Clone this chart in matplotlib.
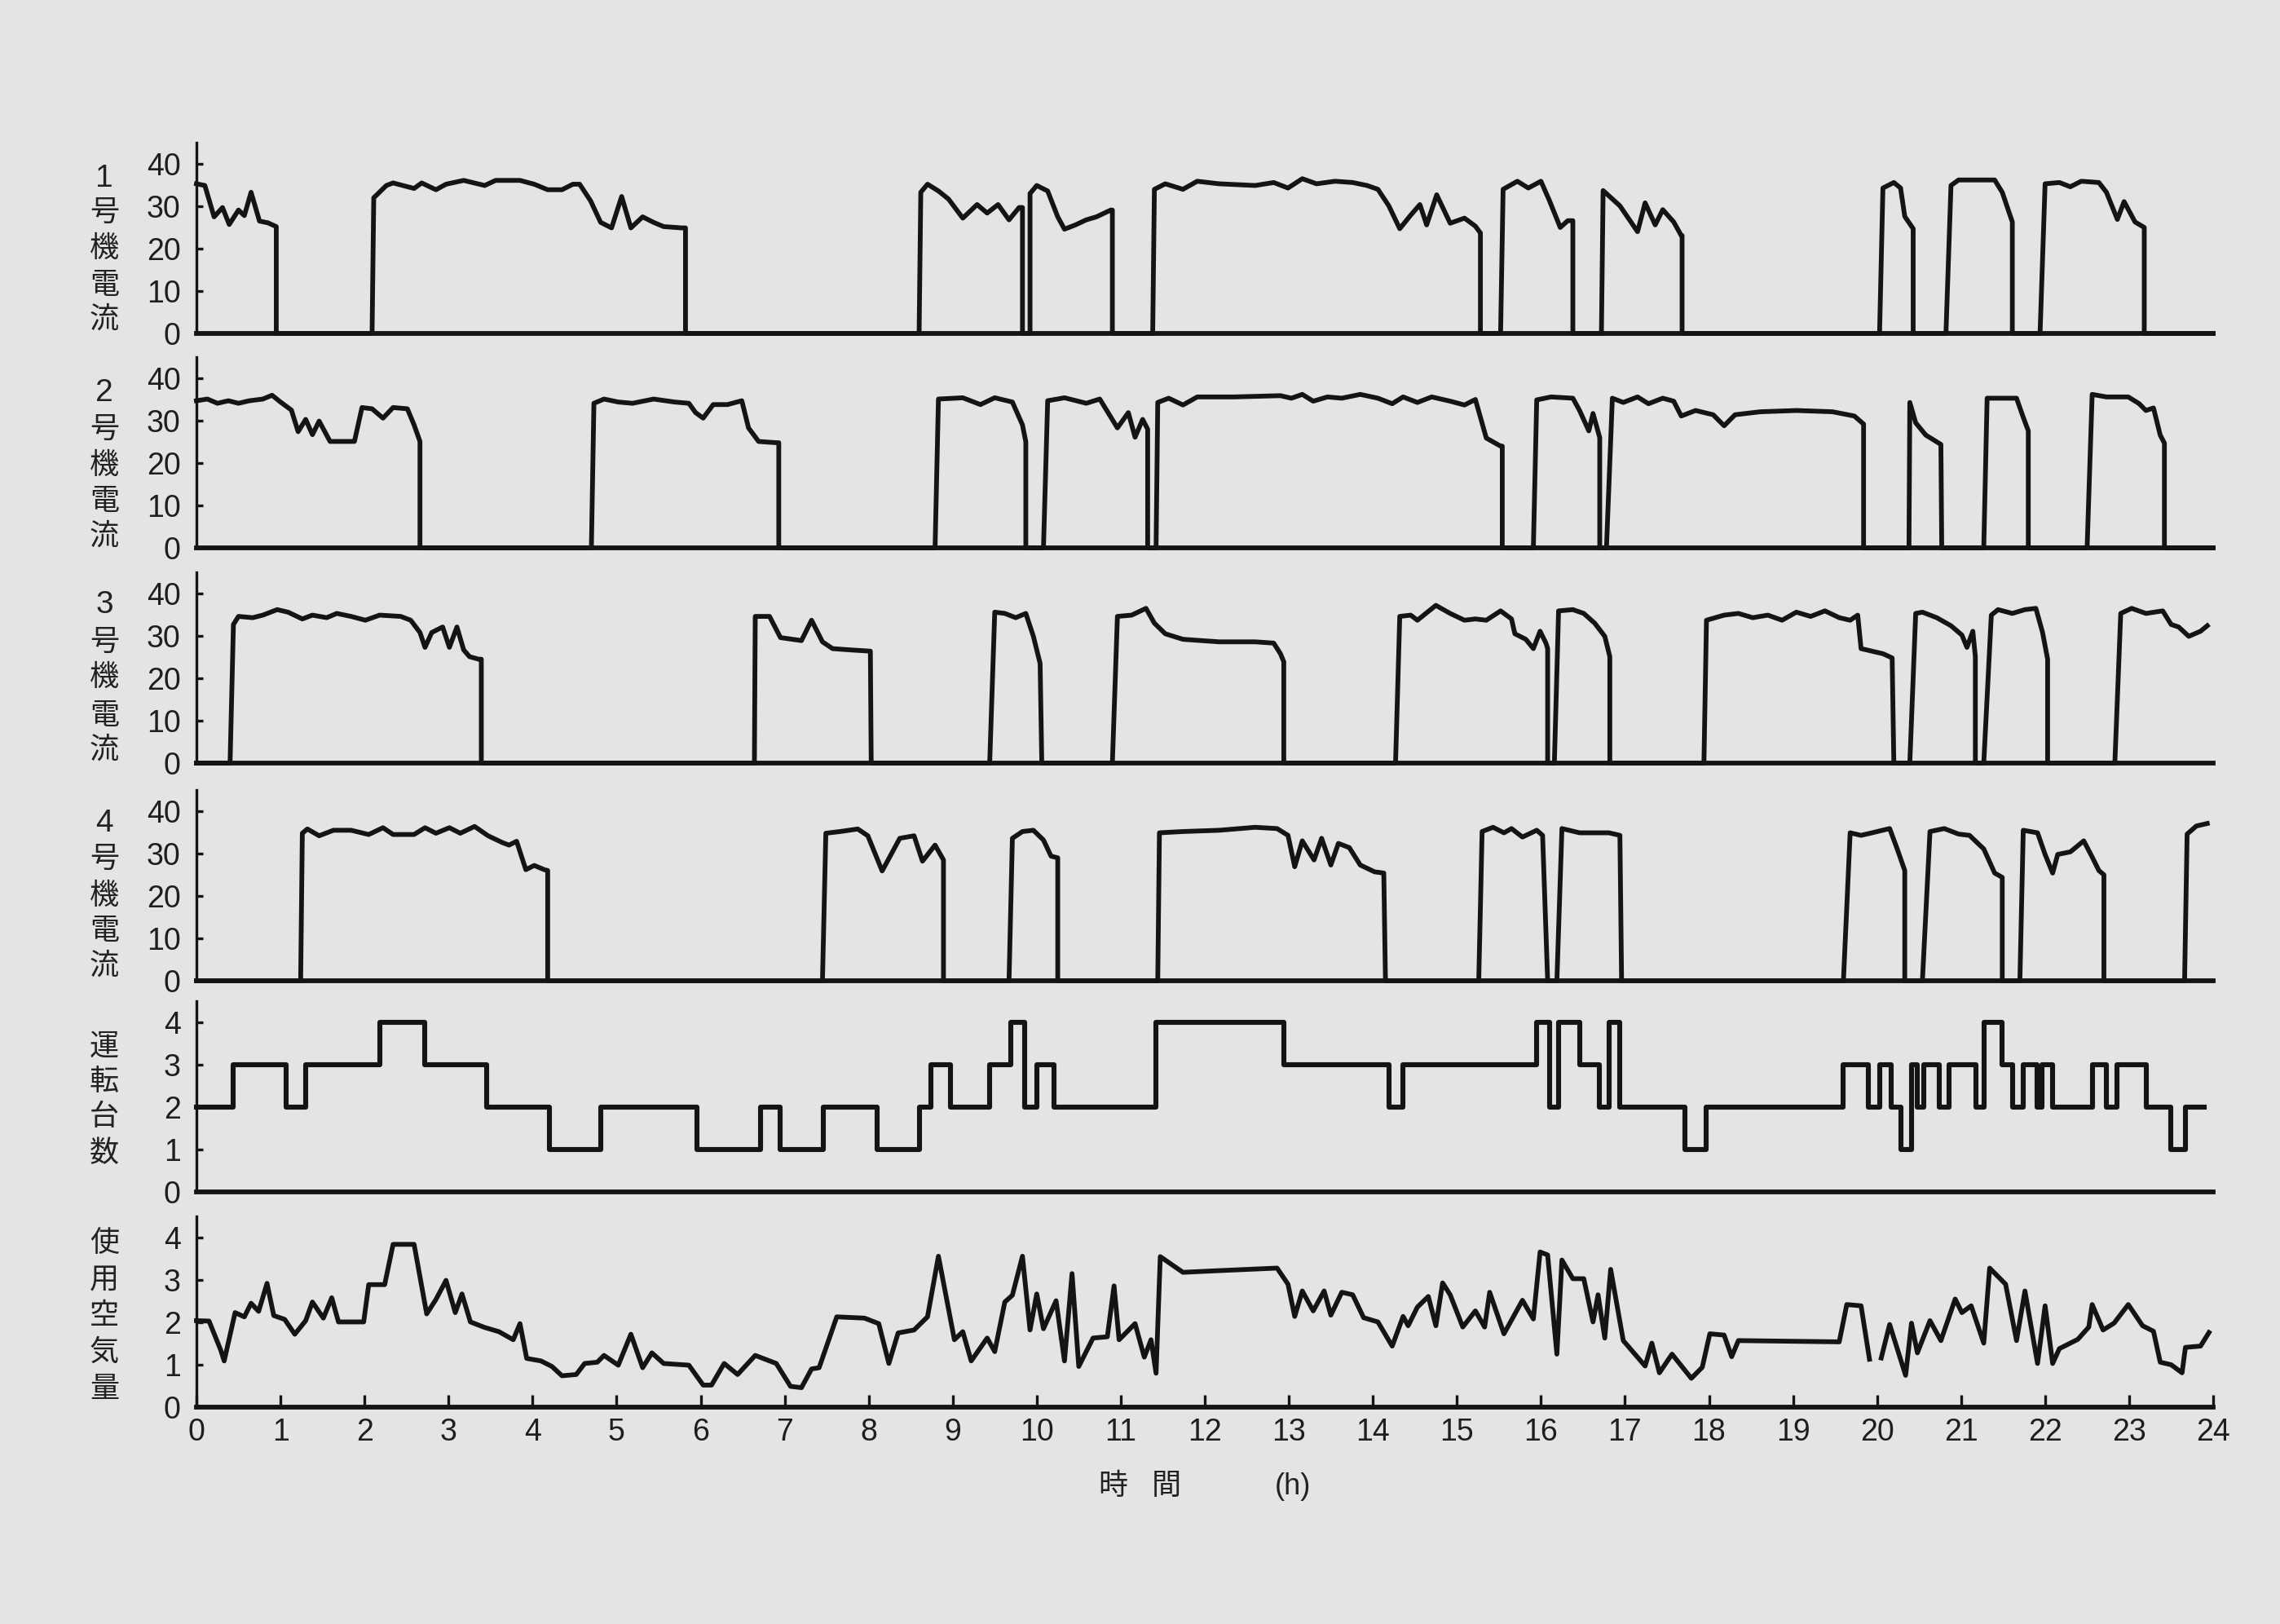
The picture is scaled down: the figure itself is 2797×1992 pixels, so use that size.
import matplotlib
matplotlib.use("Agg")
import matplotlib.pyplot as plt
from matplotlib import font_manager
import numpy as np

W, H, DPI = 2797, 1992, 100
BG = "#e4e4e2"
INK = "#141414"

# ---------------- data (time in hours) ----------------
hours = list(range(0, 25))
current_ticks = [0, 10, 20, 30, 40]
unit_ticks = [0, 1, 2, 3, 4]

m1_t = [0, 0.10, 0.21, 0.31, 0.39, 0.50, 0.57, 0.65, 0.75, 0.85, 0.95, 0.95,
        2.09, 2.11, 2.26, 2.34, 2.59, 2.68, 2.85, 2.97, 3.18, 3.43, 3.56, 3.85, 4.02, 4.18, 4.35, 4.48, 4.56,
        4.69, 4.81, 4.94, 5.06, 5.17, 5.31, 5.44, 5.56, 5.77, 5.82, 5.82,
        8.60, 8.62, 8.70, 8.83, 8.95, 9.12, 9.29, 9.41, 9.54, 9.67, 9.79, 9.83, 9.83,
        9.92, 9.92, 10.0, 10.13, 10.25, 10.33, 10.46, 10.59, 10.71, 10.88, 10.90, 10.90,
        11.38, 11.40, 11.53, 11.74, 11.91, 12.17, 12.60, 12.82, 12.99, 13.16, 13.33, 13.55, 13.76, 13.93,
        14.06, 14.19, 14.32, 14.45, 14.56, 14.64, 14.76, 14.92, 15.09, 15.22, 15.28, 15.28,
        15.52, 15.55, 15.72, 15.85, 16.0, 16.10, 16.23, 16.32, 16.38, 16.38,
        16.72, 16.74, 16.94, 17.15, 17.24, 17.36, 17.45, 17.58, 17.67, 17.68, 17.68,
        20.03, 20.07, 20.20, 20.28, 20.33, 20.43, 20.43,
        20.82, 20.88, 20.97, 21.40, 21.49, 21.61, 21.61,
        21.94, 22.0, 22.17, 22.30, 22.43, 22.64, 22.73, 22.86, 22.94, 23.07, 23.18, 23.18, 24.0]
m1_v = [35.3, 34.9, 27.5, 29.7, 25.7, 29.1, 27.8, 33.3, 26.5, 26.1, 25.2, 0,
        0, 32.0, 34.9, 35.5, 34.2, 35.5, 33.9, 35.2, 36.1, 34.9, 36.1, 36.1, 35.2, 33.9, 33.9, 35.2, 35.2,
        31.3, 26.2, 24.9, 32.3, 24.9, 27.5, 26.2, 25.2, 24.9, 24.9, 0,
        0, 33.3, 35.2, 33.6, 31.7, 27.2, 30.4, 28.4, 30.4, 26.8, 29.7, 29.7, 0,
        0, 33.0, 34.9, 33.6, 27.5, 24.6, 25.6, 26.8, 27.5, 29.1, 29.1, 0,
        0, 34.0, 35.3, 34.0, 35.9, 35.3, 34.9, 35.6, 34.3, 36.5, 35.3, 35.9, 35.6, 34.9,
        34.0, 30.1, 24.7, 27.9, 30.4, 25.6, 32.7, 26.0, 27.2, 25.3, 23.7, 0,
        0, 34.0, 35.9, 34.3, 35.9, 31.4, 25.0, 26.6, 26.6, 0,
        0, 33.7, 30.1, 24.0, 30.8, 25.6, 29.2, 26.3, 23.1, 23.1, 0,
        0, 34.3, 35.6, 34.3, 27.6, 24.7, 0,
        0, 34.9, 36.2, 36.2, 33.3, 26.3, 0,
        0, 35.3, 35.6, 34.6, 35.9, 35.6, 33.3, 26.9, 31.1, 26.3, 25.0, 0, 0]

m2_t = [0, 0.13, 0.25, 0.38, 0.50, 0.63, 0.79, 0.90, 1.0, 1.13, 1.21, 1.30, 1.38, 1.46, 1.59, 1.88, 1.97,
        2.09, 2.22, 2.34, 2.51, 2.59, 2.66, 2.66,
        4.70, 4.73, 4.85, 5.02, 5.19, 5.44, 5.69, 5.86, 5.94, 6.03, 6.15, 6.32, 6.49, 6.57, 6.69, 6.90, 6.93, 6.93,
        8.79, 8.83, 9.12, 9.33, 9.50, 9.71, 9.83, 9.87, 9.87,
        10.08, 10.13, 10.33, 10.59, 10.75, 10.96, 11.09, 11.17, 11.26, 11.32, 11.32,
        11.42, 11.44, 11.57, 11.74, 11.91, 12.34, 12.90, 13.03, 13.16, 13.29, 13.46, 13.63, 13.85, 14.06,
        14.23, 14.36, 14.53, 14.70, 14.92, 15.09, 15.22, 15.35, 15.52, 15.54, 15.54,
        15.91, 15.95, 16.12, 16.38, 16.46, 16.57, 16.62, 16.70, 16.70,
        16.78, 16.85, 16.98, 17.15, 17.28, 17.45, 17.58, 17.67, 17.84, 18.05, 18.18, 18.31, 18.61, 19.04,
        19.47, 19.73, 19.84, 19.84,
        20.38, 20.39, 20.46, 20.58, 20.76, 20.77,
        21.27, 21.31, 21.66, 21.74, 21.80, 21.80,
        22.50, 22.56, 22.73, 22.99, 23.12, 23.20, 23.29, 23.37, 23.42, 23.42, 24.0]
m2_v = [34.7, 35.1, 34.1, 34.7, 34.1, 34.7, 35.1, 36.0, 34.4, 32.5, 27.4, 30.3, 26.7, 29.9, 25.1, 25.1, 33.1,
        32.8, 30.6, 33.1, 32.8, 29.0, 25.1, 0,
        0, 34.1, 35.1, 34.4, 34.1, 35.1, 34.4, 34.1, 31.9, 30.6, 33.8, 33.8, 34.7, 28.3, 25.1, 24.8, 24.8, 0,
        0, 35.1, 35.4, 33.8, 35.4, 34.4, 29.0, 25.0, 0,
        0, 34.7, 35.4, 34.1, 35.1, 28.3, 31.9, 26.1, 30.3, 28.0, 0,
        0, 34.3, 35.3, 33.7, 35.6, 35.6, 35.9, 35.3, 36.2, 34.6, 35.6, 35.3, 36.2, 35.3,
        34.0, 35.6, 34.3, 35.6, 34.6, 33.7, 35.0, 25.9, 24.0, 24.0, 0,
        0, 34.9, 35.6, 35.3, 32.4, 27.6, 31.7, 26.0, 0,
        0, 35.3, 34.3, 35.6, 34.0, 35.3, 34.6, 31.1, 32.4, 31.4, 28.8, 31.4, 32.1, 32.4,
        32.1, 31.1, 29.2, 0,
        0, 34.3, 29.5, 26.6, 24.4, 0,
        0, 35.3, 35.3, 30.8, 27.6, 0,
        0, 36.2, 35.6, 35.6, 34.0, 32.4, 33.0, 26.6, 24.7, 0, 0]

m3_t = [0, 0.40, 0.44, 0.50, 0.67, 0.79, 0.96, 1.09, 1.26, 1.38, 1.55, 1.67, 1.84, 2.01, 2.18, 2.43, 2.55,
        2.66, 2.72, 2.80, 2.93, 3.01, 3.10, 3.18, 3.25, 3.36, 3.39, 3.39,
        6.64, 6.65, 6.82, 6.95, 7.20, 7.32, 7.45, 7.57, 7.78, 8.02, 8.03,
        9.44, 9.50, 9.62, 9.75, 9.87, 9.96, 10.04, 10.06,
        10.90, 10.96, 11.13, 11.30, 11.40, 11.53, 11.74, 12.17, 12.60, 12.82, 12.90, 12.94, 12.94,
        14.27, 14.32, 14.45, 14.53, 14.75, 14.92, 15.09, 15.22, 15.35, 15.52, 15.65, 15.69, 15.82, 15.91,
        15.99, 16.06, 16.08, 16.08,
        16.16, 16.21, 16.38, 16.51, 16.64, 16.76, 16.82, 16.82,
        17.94, 17.97, 18.18, 18.35, 18.52, 18.70, 18.87, 19.04, 19.21, 19.38, 19.55, 19.68, 19.77, 19.81,
        19.94, 20.07, 20.18, 20.20,
        20.39, 20.46, 20.54, 20.71, 20.88, 21.01, 21.07, 21.14, 21.17, 21.17,
        21.27, 21.36, 21.44, 21.61, 21.76, 21.89, 21.97, 22.03, 22.03,
        22.83, 22.90, 23.03, 23.20, 23.40, 23.50, 23.59, 23.71, 23.85, 23.93]
m3_v = [0, 0, 32.7, 34.6, 34.3, 34.9, 36.2, 35.6, 34.0, 34.9, 34.3, 35.3, 34.6, 33.7, 34.9, 34.6, 33.7,
        30.8, 27.3, 30.8, 32.1, 27.3, 32.1, 26.7, 25.1, 24.5, 24.5, 0,
        0, 34.6, 34.6, 29.6, 28.9, 33.7, 28.6, 27.0, 26.7, 26.4, 0,
        0, 35.6, 35.3, 34.3, 35.3, 29.9, 23.5, 0,
        0, 34.6, 34.9, 36.5, 33.0, 30.5, 29.2, 28.6, 28.6, 28.3, 25.8, 23.9, 0,
        0, 34.6, 34.9, 33.7, 37.2, 35.3, 33.7, 34.0, 33.7, 35.9, 34.0, 30.5, 29.2, 27.0,
        31.1, 28.3, 27.0, 0,
        0, 35.9, 36.2, 35.3, 33.0, 29.9, 25.1, 0,
        0, 33.7, 34.9, 35.3, 34.3, 34.9, 33.7, 35.6, 34.6, 35.9, 34.3, 33.7, 34.9, 27.0,
        26.4, 25.8, 24.8, 0,
        0, 35.3, 35.6, 34.3, 32.4, 30.2, 27.3, 31.1, 25.1, 0,
        0, 34.9, 36.2, 35.3, 36.2, 36.5, 30.8, 24.5, 0,
        0, 35.3, 36.5, 35.3, 35.9, 32.7, 32.1, 29.9, 31.1, 32.4]

m4_t = [0, 1.24, 1.26, 1.32, 1.46, 1.63, 1.84, 2.05, 2.22, 2.34, 2.59, 2.72, 2.85, 3.01, 3.14, 3.31, 3.47,
        3.64, 3.72, 3.81, 3.92, 4.02, 4.14, 4.18, 4.18,
        7.45, 7.49, 7.66, 7.87, 7.99, 8.16, 8.37, 8.54, 8.64, 8.79, 8.89, 8.89,
        9.67, 9.71, 9.83, 9.96, 10.08, 10.17, 10.25, 10.25,
        11.44, 11.46, 11.74, 12.17, 12.60, 12.86, 12.99, 13.07, 13.16, 13.30, 13.39, 13.50, 13.59, 13.72,
        13.85, 14.02, 14.13, 14.15,
        15.26, 15.30, 15.43, 15.56, 15.65, 15.78, 15.95, 16.02, 16.08,
        16.19, 16.25, 16.46, 16.81, 16.94, 16.96,
        19.60, 19.68, 19.81, 19.94, 20.15, 20.24, 20.33, 20.33,
        20.54, 20.63, 20.80, 20.97, 21.10, 21.27, 21.40, 21.49, 21.49,
        21.70, 21.74, 21.91, 22.0, 22.09, 22.15, 22.30, 22.46, 22.56, 22.64, 22.70, 22.70,
        23.66, 23.69, 23.80, 23.93]
m4_v = [0, 0, 34.8, 35.8, 34.2, 35.5, 35.5, 34.5, 36.1, 34.5, 34.5, 36.1, 34.8, 36.1, 34.8, 36.4, 34.2,
        32.6, 32.0, 32.9, 26.2, 27.2, 26.2, 26.0, 0,
        0, 34.8, 35.2, 35.8, 34.2, 25.9, 33.6, 34.2, 28.2, 32.0, 28.5, 0,
        0, 33.6, 35.2, 35.5, 33.2, 29.4, 29.0, 0,
        0, 34.9, 35.2, 35.5, 36.2, 35.9, 34.3, 26.9, 33.0, 28.5, 33.6, 27.3, 32.4, 31.4,
        27.3, 25.7, 25.4, 0,
        0, 35.2, 36.2, 34.9, 35.9, 33.9, 35.5, 34.3, 0,
        0, 35.9, 34.9, 34.9, 34.3, 0,
        0, 34.9, 34.3, 34.9, 35.9, 31.1, 26.0, 0,
        0, 35.2, 35.9, 34.6, 34.3, 31.1, 25.4, 24.4, 0,
        0, 35.5, 34.9, 29.8, 25.4, 29.8, 30.4, 33.0, 29.2, 26.0, 25.0, 0,
        0, 34.6, 36.5, 37.1]

count_t = [0, 0.44, 1.07, 1.30, 2.18, 2.72, 3.45, 4.20, 4.81, 5.96,
           6.71, 6.95, 7.46, 8.10, 8.60, 8.74, 8.97, 9.44, 9.69, 9.86,
           10.0, 10.21, 11.42, 12.94, 14.19, 14.36, 15.95, 16.10, 16.21, 16.46,
           16.70, 16.81, 16.94, 17.71, 17.97, 19.60, 19.90, 20.03, 20.17, 20.28,
           20.41, 20.48, 20.56, 20.74, 20.86, 21.18, 21.27, 21.49, 21.61, 21.74,
           21.90, 21.96, 22.09, 22.56, 22.73, 22.86, 23.20, 23.50, 23.67, 23.89]
count_v = [2, 3, 2, 3, 4, 3, 2, 1, 2, 1,
           2, 1, 2, 1, 2, 3, 2, 3, 4, 2,
           3, 2, 4, 3, 2, 3, 4, 2, 4, 3,
           2, 4, 2, 1, 2, 3, 2, 3, 2, 1,
           3, 2, 3, 2, 3, 2, 4, 3, 2, 3,
           2, 3, 2, 3, 2, 3, 2, 1, 2, 2]

air_t = [0, 0.15, 0.29, 0.33, 0.46, 0.57, 0.65, 0.74, 0.84, 0.92, 1.05, 1.17, 1.30, 1.38, 1.51, 1.61, 1.69,
         1.99, 2.05, 2.24, 2.34, 2.59, 2.74, 2.85, 2.97, 3.08, 3.16, 3.26, 3.43, 3.60, 3.77, 3.85, 3.93,
         4.10, 4.23, 4.35, 4.52, 4.62, 4.77, 4.85, 5.02, 5.17, 5.31, 5.42, 5.56, 5.86, 6.03, 6.13, 6.28,
         6.44, 6.65, 6.90, 7.07, 7.20, 7.32, 7.41, 7.62, 7.95, 8.12, 8.24, 8.35, 8.54, 8.70, 8.83, 9.02,
         9.12, 9.22, 9.41, 9.50, 9.62, 9.71, 9.83, 9.92, 10.0, 10.08, 10.23, 10.33, 10.42, 10.50, 10.67,
         10.84, 10.92, 10.98, 11.17, 11.28, 11.36, 11.42, 11.47, 11.74, 12.17, 12.86, 12.99, 13.07, 13.16,
         13.29, 13.42, 13.50, 13.63, 13.76, 13.89, 14.06, 14.23, 14.36, 14.42, 14.53, 14.66, 14.75, 14.83,
         14.92, 15.07, 15.22, 15.33, 15.39, 15.56, 15.78, 15.91, 15.99, 16.08, 16.19, 16.25, 16.38, 16.51,
         16.62, 16.68, 16.76, 16.83, 16.98, 17.24, 17.32, 17.41, 17.56, 17.79, 17.92, 18.01, 18.18, 18.27,
         18.35, 19.55, 19.64, 19.81, 19.91, 19.98, 20.05, 20.15, 20.34, 20.41, 20.48, 20.63, 20.76, 20.93,
         21.01, 21.12, 21.27, 21.34, 21.53, 21.66, 21.76, 21.91, 22.0, 22.09, 22.17, 22.39, 22.52, 22.56,
         22.69, 22.82, 22.99, 23.16, 23.29, 23.37, 23.50, 23.63, 23.67, 23.85, 23.95]
air_v = [2.04, 2.03, 1.34, 1.09, 2.23, 2.13, 2.45, 2.26, 2.92, 2.16, 2.07, 1.72, 2.04, 2.48, 2.10, 2.58, 2.01,
         2.01, 2.89, 2.89, 3.84, 3.84, 2.20, 2.54, 2.99, 2.23, 2.67, 2.01, 1.88, 1.78, 1.59, 1.97, 1.15,
         1.09, 0.96, 0.74, 0.77, 1.03, 1.06, 1.22, 0.99, 1.72, 0.93, 1.28, 1.03, 0.99, 0.52, 0.52, 1.03,
         0.77, 1.22, 1.03, 0.49, 0.46, 0.90, 0.93, 2.13, 2.10, 1.97, 1.03, 1.75, 1.82, 2.13, 3.56, 1.59,
         1.78, 1.09, 1.63, 1.31, 2.48, 2.64, 3.56, 1.82, 2.67, 1.85, 2.51, 1.09, 3.15, 0.96, 1.63,
         1.66, 2.86, 1.59, 1.97, 1.18, 1.59, 0.80, 3.55, 3.18, 3.22, 3.28, 2.90, 2.14, 2.74,
         2.27, 2.74, 2.17, 2.71, 2.65, 2.11, 2.01, 1.44, 2.14, 1.92, 2.36, 2.61, 1.92, 2.93,
         2.65, 1.89, 2.27, 1.89, 2.71, 1.73, 2.52, 2.08, 3.66, 3.59, 1.25, 3.47, 3.03, 3.03,
         2.01, 2.65, 1.63, 3.25, 1.57, 0.97, 1.51, 0.81, 1.25, 0.68, 0.94, 1.73, 1.70, 1.19,
         1.57, 1.54, 2.42, 2.39, 1.13, np.nan, 1.16, 1.95, 0.75, 1.98, 1.28, 2.04, 1.57, 2.55,
         2.23, 2.39, 1.51, 3.28, 2.90, 1.57, 2.74, 1.03, 2.39, 1.03, 1.38, 1.60, 1.89, 2.42,
         1.82, 1.98, 2.42, 1.92, 1.79, 1.06, 1.00, 0.81, 1.41, 1.44, 1.76]

labels = [["1", "号", "機", "電", "流"],
          ["2", "号", "機", "電", "流"],
          ["3", "号", "機", "電", "流"],
          ["4", "号", "機", "電", "流"],
          ["運", "転", "台", "数"],
          ["使", "用", "空", "気", "量"]]

# ---------------- style / layout ----------------
names = {f.name for f in font_manager.fontManager.ttflist}
NUM_FONT = "Liberation Sans Narrow" if "Liberation Sans Narrow" in names else "Liberation Sans"
CJK_FONT = "Noto Sans CJK JP"
plt.rcParams["font.family"] = [NUM_FONT, CJK_FONT, "DejaVu Sans"]

fig = plt.figure(figsize=(W / DPI, H / DPI), dpi=DPI, facecolor=BG)

X_LEFT, X_RIGHT = 241, 2715
PANEL_Y0 = [409, 672, 936, 1203, 1462, 1726]
PANEL_H = 234
LABEL_OFFS = [[-190, -148, -104, -59, -17],
              [-190, -145, -101, -57, -14],
              [-194, -148, -105, -58, -16],
              [-193, -149, -104, -61, -18],
              [-178, -135, -92, -47],
              [-201, -156, -112, -67, -22]]

series = [(m1_t, m1_v), (m2_t, m2_v), (m3_t, m3_v), (m4_t, m4_v), (count_t, count_v), (air_t, air_v)]

axes = []
for i, y0 in enumerate(PANEL_Y0):
    ax = fig.add_axes([X_LEFT / W, 1 - y0 / H, (X_RIGHT - X_LEFT) / W, PANEL_H / H])
    ax.set_facecolor("none")
    ax.set_xlim(0, 24)
    if i < 4:
        ax.set_ylim(0, 45)
        ax.set_yticks(current_ticks)
    else:
        ax.set_ylim(0, 4.5)
        ax.set_yticks(unit_ticks)
    for s in ("top", "right"):
        ax.spines[s].set_visible(False)
    ax.spines["left"].set_linewidth(2.4)
    ax.spines["left"].set_color(INK)
    ax.spines["bottom"].set_linewidth(4.2)
    ax.spines["bottom"].set_color(INK)
    ax.tick_params(axis="y", direction="in", length=6, width=2.4, color=INK,
                   labelsize=27, pad=14, labelcolor="#1e1e1e")
    if i == 5:
        ax.set_xticks(hours)
        ax.tick_params(axis="x", direction="in", length=11, width=2.4, color=INK,
                       labelsize=27, pad=9, labelcolor="#1e1e1e")
    else:
        ax.tick_params(axis="x", bottom=False, labelbottom=False)
    t, v = series[i]
    if i == 4:
        ax.plot(t, v, color=INK, lw=4.4, drawstyle="steps-post", clip_on=False)
    else:
        ax.plot(t, v, color=INK, lw=4.2, clip_on=False, solid_joinstyle="round")
    axes.append(ax)

    for ch, off in zip(labels[i], LABEL_OFFS[i]):
        fam = NUM_FONT if ch.isdigit() else CJK_FONT
        fs = 28 if ch.isdigit() else 26
        fig.text(128 / W, 1 - (y0 + off) / H, ch, ha="center", va="center",
                 fontsize=fs, family=fam, color="#222222")

# x-axis title
for ch, xp, fam in [("時", 1365, CJK_FONT), ("間", 1431, CJK_FONT), ("(h)", 1586, NUM_FONT)]:
    fig.text(xp / W, 1 - 1823 / H, ch, ha="center", va="center", fontsize=26, family=fam,
             color="#222222")

fig.savefig("out.png", dpi=DPI, facecolor=BG)
